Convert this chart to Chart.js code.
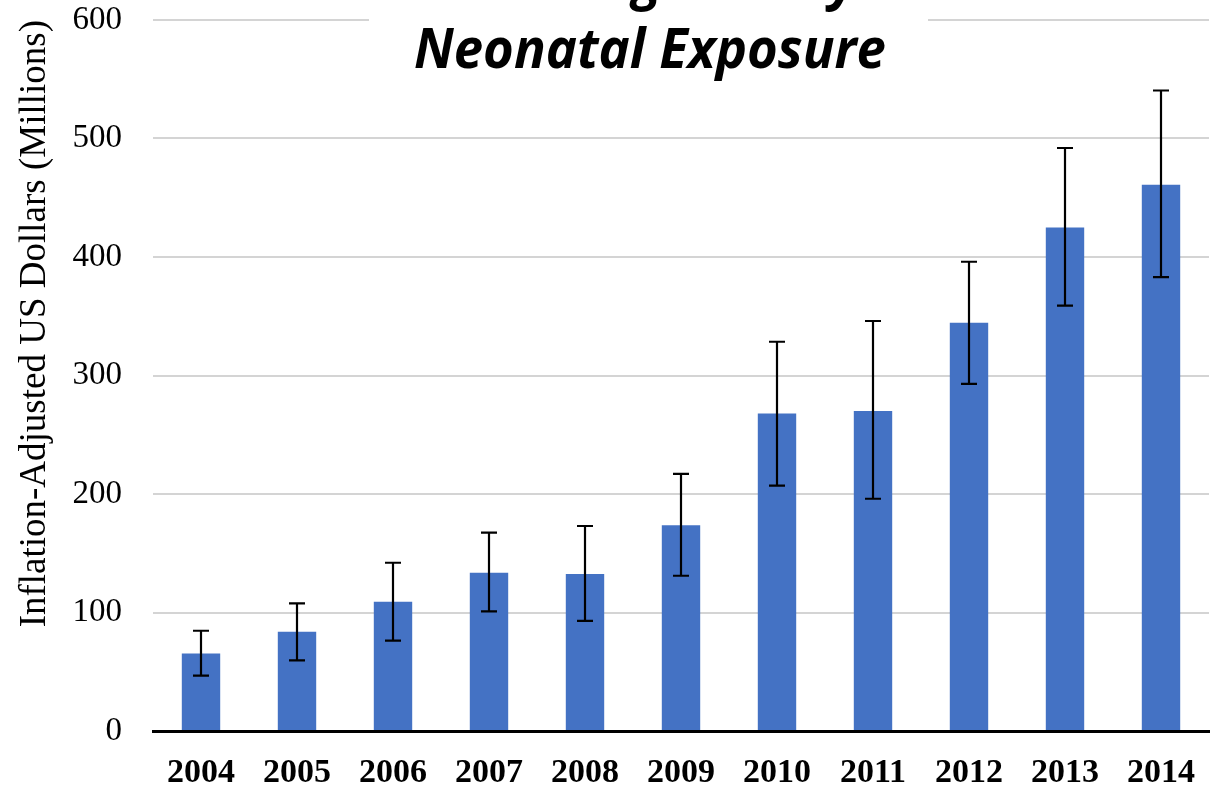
<!DOCTYPE html>
<html>
<head>
<meta charset="utf-8">
<script src="https://cdn.jsdelivr.net/npm/chart.js@4/dist/chart.umd.min.js"></script>
<style>
	html, body { margin: 0; padding: 0; background: #fff; }
	#wrap { width: 1223px; height: 789px; }
</style>
</head>
<body>
<div id="wrap"><canvas id="chart" width="1223" height="789"></canvas></div>
<script>
const years = ['2004', '2005', '2006', '2007', '2008', '2009', '2010', '2011', '2012', '2013', '2014'];
const costs = [65.5, 83.8, 109, 133.6, 132.5, 173.6, 268, 270, 344.6, 425, 461];
const upperCI = [84.6, 107.7, 142, 167.4, 173, 216.9, 328.5, 346, 396, 492, 540.5];
const lowerCI = [46.7, 59.6, 76.2, 101, 93, 131, 207, 196, 293, 359, 383];
const titleLines = ['Increasing Cost by', 'Neonatal Exposure'];
const yAxisTitle = 'Inflation-Adjusted US Dollars (Millions)';

// error bars drawn through the scales
const errorBars = {
	id: 'errorBars',
	afterDatasetsDraw(chart) {
		const { ctx, scales: { x, y } } = chart;
		ctx.save();
		ctx.strokeStyle = '#000';
		ctx.lineWidth = 2.2;
		years.forEach((yr, i) => {
			const cx = x.getPixelForValue(i);
			const top = y.getPixelForValue(upperCI[i]);
			const bot = y.getPixelForValue(lowerCI[i]);
			ctx.beginPath();
			ctx.moveTo(cx, top); ctx.lineTo(cx, bot);
			ctx.moveTo(cx - 8, top); ctx.lineTo(cx + 8, top);
			ctx.moveTo(cx - 8, bot); ctx.lineTo(cx + 8, bot);
			ctx.stroke();
		});
		ctx.restore();
	}
};

// slide title sitting over the top gridline
const slideTitle = {
	id: 'slideTitle',
	afterDraw(chart) {
		const { ctx } = chart;
		ctx.save();
		ctx.fillStyle = '#fff';
		ctx.fillRect(369, 0, 559, 80);
		ctx.fillStyle = '#000';
		ctx.font = 'italic bold 56px "Open Sans"';
		ctx.textAlign = 'center';
		ctx.textBaseline = 'alphabetic';
		ctx.translate(630, 0);
		ctx.scale(0.94, 1);
		ctx.fillText(titleLines[0], 0, -1);
		ctx.setTransform(1, 0, 0, 1, 0, 0);
		ctx.translate(650, 0);
		ctx.scale(0.94, 1);
		ctx.fillText(titleLines[1], 0, 68);
		ctx.restore();
	}
};

new Chart(document.getElementById('chart'), {
	type: 'bar',
	data: {
		labels: years,
		datasets: [{
			data: costs,
			backgroundColor: '#4472C4',
			barPercentage: 0.4,
			categoryPercentage: 1
		}]
	},
	options: {
		responsive: false,
		animation: false,
		layout: { padding: { top: 20, right: 14, left: 0, bottom: 0 } },
		plugins: {
			legend: { display: false },
			tooltip: { enabled: false }
		},
		scales: {
			x: {
				grid: { display: false, drawTicks: false },
				border: { color: '#000', width: 3 },
				ticks: {
					color: '#000',
					padding: 22,
					font: { family: '"Liberation Serif"', size: 34, weight: 'bold' }
				},
				afterFit(scale) { scale.height = 58; }
			},
			y: {
				min: 0,
				max: 600,
				grid: { color: '#d4d4d4', lineWidth: 2, drawTicks: false },
				border: { display: false },
				ticks: {
					stepSize: 100,
					color: '#000',
					padding: 31,
					font: { family: '"Liberation Serif"', size: 33 }
				},
				title: {
					display: true,
					text: yAxisTitle,
					align: 'end',
					color: '#000',
					padding: { top: 13, bottom: 0 },
					font: { family: '"Liberation Serif"', size: 37 }
				},
				afterFit(scale) {
					scale.width = 153;
					scale.paddingTop = 0;
					scale.paddingBottom = 0;
				}
			}
		}
	},
	plugins: [errorBars, slideTitle]
});
</script>
</body>
</html>
